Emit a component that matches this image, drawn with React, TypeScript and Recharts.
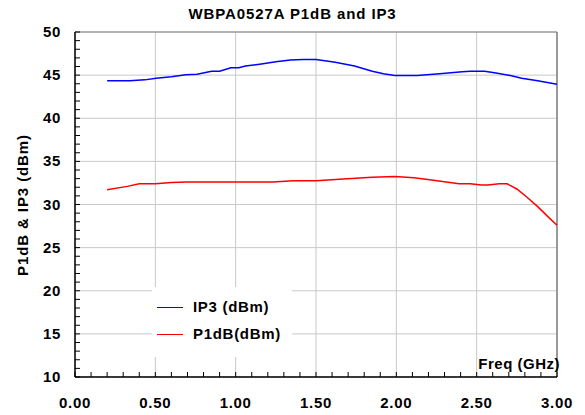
import React from "react";
import {
  CartesianGrid,
  Label,
  Legend,
  Line,
  LineChart,
  ReferenceLine,
  XAxis,
  YAxis,
} from "recharts";

const FONT = '"Liberation Sans", Arial, sans-serif';
const IP3_COLOR = "#0000ff";
const P1DB_COLOR = "#ff0000";
const GRID = "#c8c8c8";

const ip3Freq = [0.2, 0.34, 0.435, 0.505, 0.6, 0.69, 0.76, 0.85, 0.9, 0.97, 1.02, 1.06, 1.16, 1.25, 1.34, 1.42, 1.5, 1.62, 1.74, 1.85, 1.92, 1.99, 2.13, 2.27, 2.41, 2.46, 2.55, 2.62, 2.71, 2.78, 2.88, 3.0];
const ip3Values = [44.35, 44.35, 44.45, 44.65, 44.8, 45.05, 45.1, 45.45, 45.45, 45.85, 45.85, 46.05, 46.3, 46.55, 46.75, 46.8, 46.8, 46.5, 46.05, 45.45, 45.15, 44.95, 44.95, 45.15, 45.4, 45.45, 45.45, 45.25, 44.95, 44.65, 44.35, 43.95];

const p1Freq = [0.2, 0.325, 0.4, 0.5, 0.6, 0.69, 0.92, 1.23, 1.36, 1.5, 1.67, 1.85, 1.99, 2.11, 2.22, 2.39, 2.46, 2.53, 2.57, 2.64, 2.69, 2.75, 2.81, 2.88, 2.94, 3.0];
const p1Values = [31.7, 32.1, 32.4, 32.4, 32.55, 32.6, 32.6, 32.6, 32.75, 32.75, 32.95, 33.15, 33.25, 33.1, 32.85, 32.4, 32.4, 32.25, 32.25, 32.4, 32.4, 31.8, 30.9, 29.75, 28.65, 27.6];

const X_DOMAIN = [0, 3];
const Y_DOMAIN = [10, 50];
const xMajor = [0, 0.5, 1, 1.5, 2, 2.5, 3];
const yMajor = [10, 15, 20, 25, 30, 35, 40, 45, 50];
const xMinor = Array.from({ length: 31 }, (_, i) => i / 10);
const yMinor = Array.from({ length: 41 }, (_, i) => 10 + i);

const ip3Data = ip3Freq.map((f, i) => ({ freq: f, ip3: ip3Values[i] }));
const p1Data = p1Freq.map((f, i) => ({ freq: f, p1: p1Values[i] }));

const isMajor = (v: number, step: number) =>
  Math.abs(v / step - Math.round(v / step)) < 1e-6;

const XTick = (props: any) => {
  const { x, y, payload } = props;
  const v = payload.value;
  return (
    <g>
      <line x1={x} x2={x} y1={y} y2={y - 5} stroke="#000" strokeWidth={1} />
      {isMajor(v, 0.5) && (
        <text
          x={x}
          y={y + 31}
          textAnchor="middle"
          fontFamily={FONT}
          fontWeight="bold"
          fontSize={15}
          letterSpacing={0.7}
          fill="#000"
        >
          {v.toFixed(2)}
        </text>
      )}
    </g>
  );
};

const YTick = (props: any) => {
  const { x, y, payload } = props;
  const v = payload.value;
  return (
    <g>
      <line x1={x} x2={x + 5} y1={y} y2={y} stroke="#000" strokeWidth={1} />
      {isMajor(v, 5) && (
        <text
          x={x - 14}
          y={y + 5}
          textAnchor="end"
          fontFamily={FONT}
          fontWeight="bold"
          fontSize={15}
          letterSpacing={0.7}
          fill="#000"
        >
          {v}
        </text>
      )}
    </g>
  );
};

const LegendBox = () => (
  <div
    style={{
      background: "#fff",
      width: 140,
      height: 70,
      fontFamily: FONT,
      fontWeight: "bold",
      fontSize: 15,
      letterSpacing: 0.7,
      position: "relative",
    }}
  >
    {[
      { name: "IP3 (dBm)", color: IP3_COLOR, top: 20 },
      { name: "P1dB(dBm)", color: P1DB_COLOR, top: 47 },
    ].map((it) => (
      <div key={it.name} style={{ position: "absolute", left: 5, top: it.top - 9, height: 18, display: "flex", alignItems: "center" }}>
        <span style={{ display: "inline-block", width: 26, height: 0, borderTop: `1.5px solid ${it.color}`, marginRight: 10 }} />
        <span style={{ lineHeight: "18px" }}>{it.name}</span>
      </div>
    ))}
  </div>
);

// grid only on the major ticks, mapped through the plot area
const gridY = ({ offset }: any) =>
  yMajor.map((v) => offset.top + ((Y_DOMAIN[1] - v) / (Y_DOMAIN[1] - Y_DOMAIN[0])) * offset.height);
const gridX = ({ offset }: any) =>
  xMajor.map((v) => offset.left + ((v - X_DOMAIN[0]) / (X_DOMAIN[1] - X_DOMAIN[0])) * offset.width);

export default function App() {
  return (
    <div style={{ position: "absolute", left: 0, top: 0, width: 585, height: 415, background: "#fff" }}>
      <div
        style={{
          position: "absolute",
          left: 0,
          top: 5,
          width: 585,
          textAlign: "center",
          fontFamily: FONT,
          fontWeight: "bold",
          fontSize: 15,
          letterSpacing: 0.9,
          lineHeight: "18px",
        }}
      >
        WBPA0527A P1dB and IP3
      </div>
      <LineChart
        width={585}
        height={415}
        margin={{ top: 32, right: 28, bottom: 0, left: 0 }}
      >
        <CartesianGrid
          stroke={GRID}
          horizontalCoordinatesGenerator={gridY}
          verticalCoordinatesGenerator={gridX}
        />
        <XAxis
          dataKey="freq"
          type="number"
          domain={X_DOMAIN}
          ticks={xMinor}
          interval={0}
          allowDuplicatedCategory={false}
          height={38}
          tickSize={0}
          tickMargin={0}
          tickLine={false}
          axisLine={{ stroke: "#000", strokeWidth: 1.5 }}
          tick={<XTick />}
        />
        <YAxis
          type="number"
          domain={Y_DOMAIN}
          ticks={yMinor}
          interval={0}
          width={75}
          tickSize={0}
          tickMargin={0}
          tickLine={false}
          axisLine={{ stroke: "#000", strokeWidth: 1.5 }}
          tick={<YTick />}
        >
          <Label
            content={() => (
              <text
                x={22}
                y={205}
                transform="rotate(-90 22 205)"
                textAnchor="middle"
                dominantBaseline="central"
                fontFamily={FONT}
                fontWeight="bold"
                fontSize={15}
                letterSpacing={0.9}
                fill="#000"
              >
                P1dB &amp; IP3 (dBm)
              </text>
            )}
          />
        </YAxis>
        <ReferenceLine y={50} stroke="#808080" strokeWidth={1} />
        <ReferenceLine x={3} stroke="#808080" strokeWidth={1.5} />
        <Line
          data={ip3Data}
          dataKey="ip3"
          name="IP3 (dBm)"
          stroke={IP3_COLOR}
          strokeWidth={1.5}
          dot={false}
          type="linear"
          isAnimationActive={false}
        />
        <Line
          data={p1Data}
          dataKey="p1"
          name="P1dB(dBm)"
          stroke={P1DB_COLOR}
          strokeWidth={1.5}
          dot={false}
          type="linear"
          isAnimationActive={false}
        />
        <Legend
          layout="horizontal"
          verticalAlign="middle"
          align="center"
          content={<LegendBox />}
          wrapperStyle={{ position: "absolute", left: 152, top: 287, width: 140, height: 70 }}
        />
      </LineChart>
      <div
        style={{
          position: "absolute",
          right: 585 - 560,
          top: 355,
          fontFamily: FONT,
          fontWeight: "bold",
          fontSize: 15,
          letterSpacing: 0.5,
          lineHeight: "18px",
        }}
      >
        Freq (GHz)
      </div>
    </div>
  );
}
